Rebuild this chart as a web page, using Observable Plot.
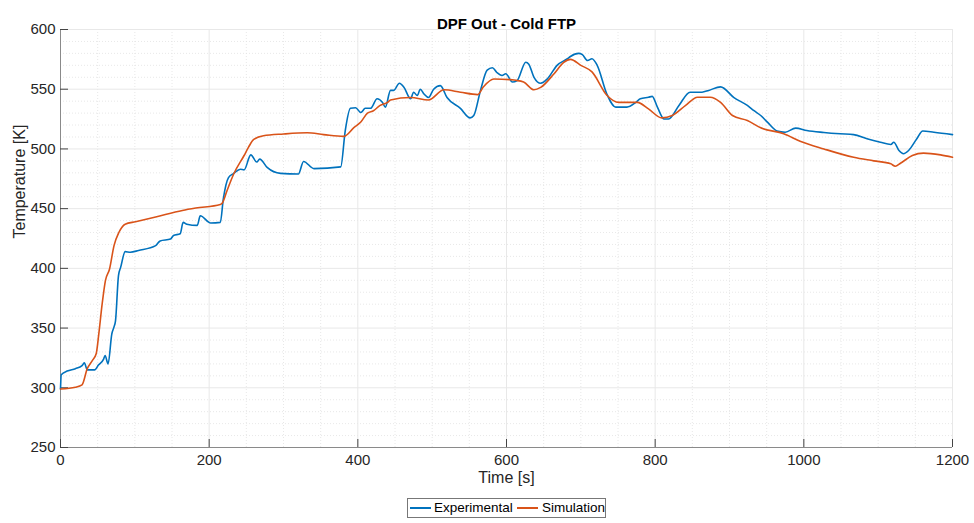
<!DOCTYPE html>
<html><head><meta charset="utf-8">
<script src="https://cdn.jsdelivr.net/npm/d3@7"></script>
<script src="https://cdn.jsdelivr.net/npm/@observablehq/plot@0.6"></script>
<style>
body{margin:0;background:#fff;font-family:"Liberation Sans",Arial,sans-serif;}
#wrap{position:relative;width:974px;height:523px;overflow:hidden;}
#legend{position:absolute;left:407px;top:498px;width:197px;height:18px;border:1px solid #777;background:#fff;font-size:13.5px;color:#000;}
#legend .sw{position:absolute;top:8px;width:21px;height:2px;}
#legend .lb{position:absolute;top:1px;line-height:16px;white-space:nowrap;}
</style></head><body>
<div id="wrap">
  <div id="chart"></div>
  <div id="legend">
    <span class="sw" style="left:2px;background:#0072BD"></span><span class="lb" style="left:26px">Experimental</span>
    <span class="sw" style="left:109px;background:#D95319"></span><span class="lb" style="left:134px">Simulation</span>
  </div>
</div>
<script>
const xTicks = [0, 200, 400, 600, 800, 1000, 1200];
const yTicks = [250, 300, 350, 400, 450, 500, 550, 600];

const expTime = [0,1,9,20,29,32,36,46,51,58,60,64,69,72,74,78,81,87,94,105,128,134,148,152,161,165,170,184,188,202,215,219,226,233,242,247,256,264,268,278,296,320,327,341,377,383,390,397,404,410,417,426,433,437,444,448,456,462,471,475,480,484,489,495,502,511,520,538,551,556,565,574,581,587,594,599,608,614,626,630,637,646,655,668,682,686,697,702,709,715,722,735,747,762,774,780,791,796,803,812,818,832,847,863,872,888,906,924,933,942,951,964,975,989,1004,1027,1049,1067,1085,1103,1117,1121,1128,1134,1141,1152,1160,1175,1200];
const expTemp = [299,311,314,316,318.5,321,315,315,319,324,327,320,345,351,356,394,401,414,413.5,415,419,423,424.5,427.5,429,438.5,437,436,444,438,438.5,458,476,479.5,483,482.5,495,489,491.5,484.5,479.5,479,489.5,483.5,485,515,534,534.5,530.5,534,534,542,539,535,549,549,555,551.7,542,547.5,544.7,550,546,543,550,553,543,534,526,528,549,566,568,564,561.5,563,556,557,572.6,571,560,555,558.7,570,575.5,577.4,580,579,574,575.5,570,546,535,535,539,542,543.3,544,535,525,525,536.4,547.5,547.5,549,552,543,536.4,532,528,522.4,515,514,517.4,515.4,513.8,512.7,512,508.5,505.6,503.7,505.6,498.7,496,498.7,508.5,515,514,512];

const simTime = [0,20,29,36,43,48,51.5,56,60.5,66,72,78.5,87,101,128,164,182,215,218,224,233,247,253,260,273,300,332,354,381,395,404,413,421,430,440,444,471,495,516,538,561,569,583,605,623,637,646,664,677,686,700,715,735,751,776,791,809,823,841,857,874,888,904,924,942,973,995,1027,1067,1094,1117,1123,1130,1146,1161,1184,1200];
const simTemp = [299,300.5,302.5,316,323,328.5,345,370,390,399.5,419,430,437,439,443,448.5,450.5,453.5,455,465,479,494.5,501.5,508,511,512.5,513.5,512,510.5,518,522.5,530,532,536.5,539,541,543,541,549.5,547.5,545.5,552,558.5,558,556,549.5,551.5,563,572.5,575,570,564.5,545,539,539,533.5,526,528,536.5,543.3,543.3,539,528,523.8,517.7,512.7,506.5,500,493,490,487.5,485.5,488,494.5,496.5,495,493];

const exp = expTime.map((t, i) => ({t, v: expTemp[i]}));
const sim = simTime.map((t, i) => ({t, v: simTemp[i]}));

const xMinor = d3.range(0, 1201, 50).filter(d => d % 200 !== 0);
const yMinor = d3.range(250, 601, 10).filter(d => d % 50 !== 0);

const chart = Plot.plot({
  width: 974, height: 523,
  marginTop: 29, marginBottom: 76, marginLeft: 60, marginRight: 22,
  style: {fontFamily: "Liberation Sans, Arial, sans-serif", fontSize: "15px", color: "#262626", background: "#fff", overflow: "visible"},
  x: {domain: [0, 1200], ticks: xTicks, tickFormat: d => String(d), tickSize: 0, tickPadding: 7, label: null},
  y: {domain: [250, 600], ticks: yTicks, tickFormat: d => String(d), tickSize: 0, tickPadding: 5, label: null},
  marks: [
    Plot.ruleX(xMinor, {x: d => d, stroke: "#e2e2e2", strokeDasharray: "1,2", strokeWidth: 0.8}),
    Plot.ruleY(yMinor, {y: d => d, stroke: "#e2e2e2", strokeDasharray: "1,2", strokeWidth: 0.8}),
    Plot.ruleX(xTicks, {x: d => d, stroke: "#e8e8e8"}),
    Plot.ruleY(yTicks, {y: d => d, stroke: "#e8e8e8"}),
    Plot.ruleX([0], {x: d => d, stroke: "#8a8a8a"}),
    Plot.ruleY([250], {y: d => d, stroke: "#8a8a8a"}),
    Plot.tickX(xTicks, {x: d => d, insetTop: 410, stroke: "#444"}),
    Plot.tickY(yTicks, {y: d => d, insetRight: 884, stroke: "#444"}),
    Plot.line(exp, {x: "t", y: "v", stroke: "#0072BD", strokeWidth: 1.6, curve: "monotone-x"}),
    Plot.line(sim, {x: "t", y: "v", stroke: "#D95319", strokeWidth: 1.6, curve: "monotone-x"}),
    Plot.text(["DPF Out - Cold FTP"], {frameAnchor: "top", dy: -11, fontWeight: "bold", fontSize: 15, fill: "#000"}),
    Plot.text(["Time [s]"], {frameAnchor: "bottom", dy: 35, fontSize: 16, fill: "#262626"}),
    Plot.text(["Temperature [K]"], {frameAnchor: "left", dx: -41, rotate: -90, fontSize: 16, fill: "#262626"})
  ]
});
document.getElementById("chart").appendChild(chart);
</script>
</body></html>
